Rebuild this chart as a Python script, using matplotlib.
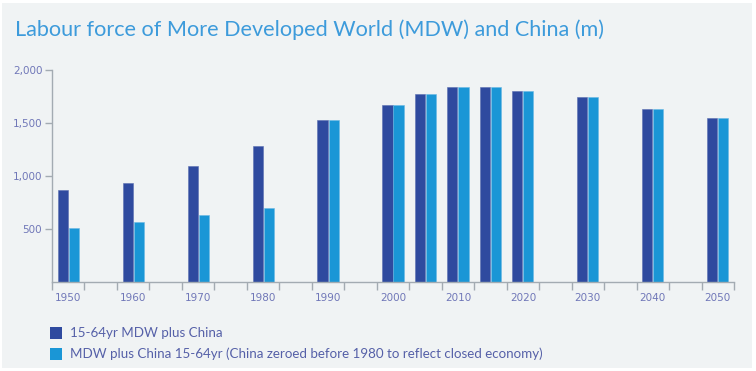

# labour force bar chart ------------------------------------------------------------------------------------------------
import numpy as np
from matplotlib import pyplot as plt
from matplotlib.patches import Rectangle

# data ------------------------------------------------------------------------------------------------------------------
years = [1950, 1955, 1960, 1965, 1970, 1975, 1980, 1985, 1990, 1995, 2000, 2005, 2010,
         2015, 2020, 2025, 2030, 2035, 2040, 2045, 2050]
mdw_china = [868, 0, 934, 0, 1094, 0, 1286, 0, 1528, 0, 1667, 1771, 1837,
             1837, 1802, 0, 1748, 0, 1632, 0, 1544]
mdw_china_zeroed = [505, 0, 566, 0, 632, 0, 701, 0, 1528, 0, 1667, 1771, 1837,
                    1837, 1802, 0, 1748, 0, 1632, 0, 1544]
year_labels = ['1950', '', '1960', '', '1970', '', '1980', '', '1990', '', '2000', '', '2010',
               '', '2020', '', '2030', '', '2040', '', '2050']
y_ticks = [500, 1000, 1500, 2000]
y_labels = ['500', '1,000', '1,500', '2,000']
series_names = ['15-64yr MDW plus China',
                'MDW plus China 15-64yr (China zeroed before 1980 to reflect closed economy)']

DARK = '#2f4a9f'
LIGHT = '#1a96d6'
BG = '#f0f3f4'
TICK_COL = '#7077b8'
AXIS_COL = '#a3abb2'

# plot ------------------------------------------------------------------------------------------------------------------
fig = plt.figure(figsize=(7.56, 3.71), dpi=100)
fig.patch.set_facecolor('white')
fig.patches.append(Rectangle((2 / 756, 3 / 371), 750 / 756, 365 / 371, transform=fig.transFigure,
                             facecolor=BG, edgecolor='none', zorder=-10))

ax = fig.add_axes([52 / 756, 1 - 282 / 371, 682 / 756, 212 / 371])
ax.set_facecolor('none')
ax.set_zorder(5)

x = np.arange(len(years))
w = 0.31
ax.bar(x - w / 2 - 0.015, mdw_china, w, color=DARK, edgecolor='#5a6fb0', linewidth=0.4)
ax.bar(x + w / 2 + 0.015, mdw_china_zeroed, w, color=LIGHT, edgecolor='#6ab8e4', linewidth=0.4)

ax.set_xlim(-0.5, len(years) - 0.5)
ax.set_ylim(0, 2000)
ax.set_yticks(y_ticks, y_labels)
ax.set_xticks(x, year_labels)
ax.set_xticks(np.arange(len(years) + 1) - 0.5, minor=True)
ax.tick_params(axis='x', which='major', length=0, pad=8, labelsize=7.5, labelcolor=TICK_COL)
ax.tick_params(axis='x', which='minor', length=6, width=1, color=AXIS_COL, direction='out')
ax.tick_params(axis='y', length=5, width=1, color=AXIS_COL, labelsize=7.5, labelcolor=TICK_COL, pad=2)

for side in ['top', 'right']:
    ax.spines[side].set_visible(False)
for side in ['left', 'bottom']:
    ax.spines[side].set_color(AXIS_COL)
    ax.spines[side].set_linewidth(1)

fig.text(15 / 756, 1 - 30 / 371, 'Labour force of More Developed World (MDW) and China (m)',
         fontsize=15.6, color='#3d9bdb', family='Lato', va='center', ha='left')

# legend ----------------------------------------------------------------------------------------------------------------
for i, (name, col) in enumerate(zip(series_names, [DARK, LIGHT])):
    yc = 333 + i * 21
    fig.patches.append(Rectangle((50 / 756, 1 - (yc + 6) / 371), 12 / 756, 12 / 371,
                                 transform=fig.transFigure, facecolor=col, edgecolor='none'))
    fig.text(70 / 756, 1 - yc / 371, name, fontsize=9.6, color='#5560a8', family='Lato',
             va='center', ha='left')

fig.savefig('out.png', dpi=100, facecolor=fig.get_facecolor())
